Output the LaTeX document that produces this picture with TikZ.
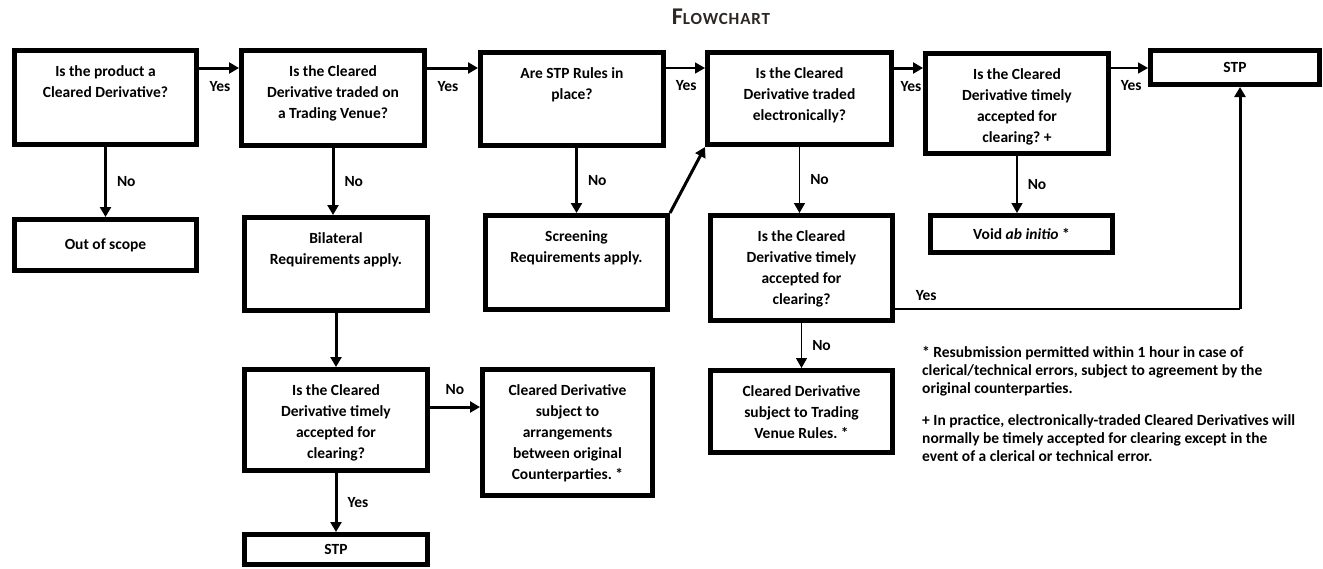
\documentclass[tikz,border=0pt]{standalone}
\usepackage{fontspec}
\setmainfont{Carlito}
\usepackage{tikz}
\usetikzlibrary{arrows.meta}

\setlength{\parindent}{0pt}
\frenchspacing
\definecolor{titlecol}{RGB}{45,38,34}
% text sits at the top of the tall boxes
\newcommand{\toptext}[3]{\parbox[c][#2][t]{#1}{\centering\vspace*{15pt}#3}}

\begin{document}
\begin{tikzpicture}[x=1pt, y=-1pt,
    font=\bfseries\fontsize{15.5}{21}\selectfont,
    box/.style={draw, line width=5pt, inner sep=0pt, align=center},
    arr/.style={-{Triangle[length=10pt,width=11pt]}, line width=3pt},
    arrthin/.style={arr, line width=1.5pt},
    yeslbl/.style={pos=0, anchor=north west, inner sep=2pt, xshift=7pt, yshift=-10pt},
    nolbl/.style={midway, right, inner sep=2pt, xshift=8pt}]
  \useasboundingbox (0,0) rectangle (1323,568);

  % Title
  \node[text=titlecol] (title) at (721,17) {\addfontfeature{LetterSpace=5}{\fontsize{24}{24}\selectfont F}{\fontsize{17}{17}\selectfont LOWCHART}};

  % Top row
  \node[box] (q1) at (105.5,97.5) {\toptext{182pt}{94pt}{Is the product a\\Cleared Derivative?}};
  \node[box] (q2) at (333,98) {\toptext{183pt}{95pt}{Is the Cleared\\Derivative traded on\\a Trading Venue?}};
  \node[box] (q3) at (572,99) {\toptext{183pt}{93pt}{Are STP Rules in\\place?}};
  \node[box] (q4) at (799.5,98.5) {\toptext{184pt}{92pt}{Is the Cleared\\Derivative traded\\electronically?}};
  \node[box] (q5) at (1017,103.5) {\toptext{183pt}{100pt}{Is the Cleared\\Derivative timely\\accepted for\\clearing? +}};
  \node[box, minimum width=169pt, minimum height=34pt] (stpa) at (1235,67.5) {STP};

  % Second row
  \node[box, minimum width=182pt, minimum height=51pt] (out) at (105.5,245) {Out of scope};
  \node[box] (bil) at (336,264) {\toptext{183pt}{93pt}{Bilateral\\Requirements apply.}};
  \node[box] (scr) at (576.5,262.5) {\toptext{182pt}{94pt}{Screening\\Requirements apply.}};
  \node[box] (q6) at (801.5,268) {\toptext{182pt}{105pt}{Is the Cleared\\Derivative timely\\accepted for\\clearing?}};
  \node[box, minimum width=182pt, minimum height=37pt] (void) at (1021.5,234) {Void \textit{ab initio} *};

  % Third row
  \node[box] (q7) at (336,420) {\toptext{183pt}{101pt}{Is the Cleared\\Derivative timely\\accepted for\\clearing?}};
  \node[box] (arrange) at (567.5,432.5) {\toptext{170pt}{126pt}{Cleared Derivative\\subject to\\arrangements\\between original\\Counterparties. *}};
  \node[box] (venue) at (801.5,411.5) {\toptext{182pt}{82pt}{Cleared Derivative\\subject to Trading\\Venue Rules. *}};
  \node[box, minimum width=183pt, minimum height=30pt] (stpb) at (336,549.5) {STP};

  % Footnotes
  \node[anchor=north west, align=left, inner sep=0pt, font=\bfseries\fontsize{15.5}{18}\selectfont] (notes) at (922,346)
    {* Resubmission permitted within 1 hour in case of\\
     clerical/technical errors, subject to agreement by the\\
     original counterparties.\\[14pt]
     + In practice, electronically-traded Cleared Derivatives will\\
     normally be timely accepted for clearing except in the\\
     event of a clerical or technical error.};

  \coordinate (yesrow) at (0,68);
  \coordinate (norow) at (0,407);
  \coordinate (turn) at (1240,309);

  % Yes branches
  \draw[arr] (q1.east |- yesrow) -- node[yeslbl] {Yes} (q2.west |- yesrow);
  \draw[arr] (q2.east |- yesrow) -- node[yeslbl] {Yes} (q3.west |- yesrow);
  \draw[arrthin] (q3.east |- yesrow) -- node[yeslbl] {Yes} (q4.west |- yesrow);
  \draw[arr] (q4.east |- yesrow) -- node[yeslbl, xshift=-4pt] {Yes} (q5.west |- yesrow);
  \draw[arrthin] (q5.east |- yesrow) -- node[yeslbl] {Yes} (stpa.west |- yesrow);

  % No branches
  \draw[arr] (q1.south) -- node[nolbl] {No} (out.north);
  \draw[arr] (q2.south) -- node[nolbl] {No} (q2.south |- bil.north);
  \draw[arr] (scr.north |- q3.south) -- node[nolbl] {No} (scr.north);
  \draw[arrthin] (q4.south) -- node[nolbl] {No} (q4.south |- q6.north);
  \draw[arrthin] (q5.south) -- node[nolbl] {No} (q5.south |- void.north);
  \draw[arrthin] (q6.south) -- node[nolbl] {No} (venue.north);
  \draw[arr] (q7.east |- norow) -- node[midway, above, inner sep=2pt, yshift=9pt] {No} (arrange.west |- norow);

  % Other connectors
  \draw[arr] (bil.south) -- (q7.north);
  \draw[arr] (q7.south) -- node[nolbl] {Yes} (stpb.north);
  \draw[arr] (scr.north east) -- (q4.south west);
  \draw[line width=1.5pt] (q6.east |- turn) -- node[pos=0, anchor=south west, inner sep=2pt, xshift=18pt, yshift=6pt] {Yes} (turn);
  \draw[arr] (turn) -- (turn |- stpa.south);
\end{tikzpicture}
\end{document}
